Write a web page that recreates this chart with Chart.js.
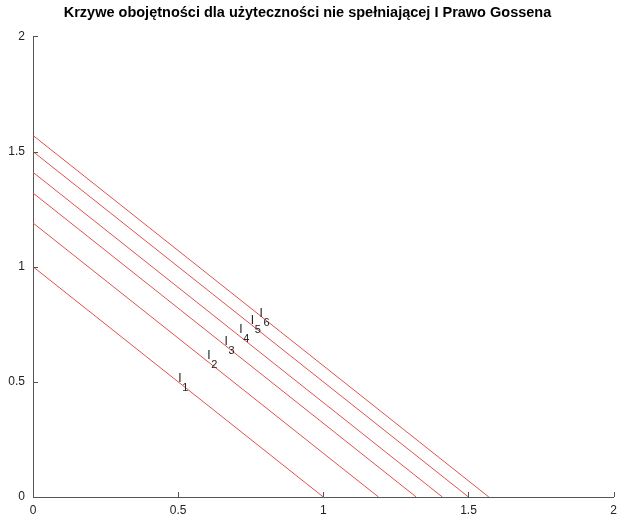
<!DOCTYPE html>
<html>
<head>
<meta charset="utf-8">
<script src="https://cdn.jsdelivr.net/npm/chart.js@4/dist/chart.umd.min.js"></script>
<style>
  html, body { margin: 0; padding: 0; background: #fff; }
  #wrap { width: 623px; height: 518px; }
</style>
</head>
<body>
<div id="wrap"><canvas id="chart"></canvas></div>
<script>
// poziomy krzywych obojętności: x + y = c
const levels = [1.0, 1.19, 1.32, 1.41, 1.50, 1.57];
const labelNames = ['1', '2', '3', '4', '5', '6'];
const labelX = [0.50, 0.60, 0.66, 0.71, 0.75, 0.78];
const labelY = [0.50, 0.60, 0.66, 0.71, 0.75, 0.78];
const tickValues = [0, 0.5, 1, 1.5, 2];

const lineColor = 'rgb(226, 80, 80)';
const axisColor = '#555';

const datasets = levels.map((c, i) => ({
    label: 'I' + labelNames[i],
    data: [{ x: 0, y: c }, { x: c, y: 0 }],
    borderColor: lineColor,
    borderWidth: 1,
    pointRadius: 0,
    fill: false,
    tension: 0
}));

// ticki skierowane do środka + etykiety I z indeksem dolnym
const extras = {
    id: 'extras',
    afterDraw(chart) {
        const ctx = chart.ctx;
        const xs = chart.scales.x, ys = chart.scales.y;
        const area = chart.chartArea;
        ctx.save();
        ctx.strokeStyle = axisColor;
        ctx.lineWidth = 1;
        ctx.beginPath();
        tickValues.forEach(v => {
            const px = Math.round(xs.getPixelForValue(v)) + 0.5;
            ctx.moveTo(px, area.bottom);
            ctx.lineTo(px, area.bottom - 5);
            const py = Math.round(ys.getPixelForValue(v)) + 0.5;
            ctx.moveTo(area.left, py);
            ctx.lineTo(area.left + 5, py);
        });
        ctx.stroke();

        ctx.fillStyle = '#222';
        ctx.textBaseline = 'alphabetic';
        ctx.textAlign = 'left';
        labelNames.forEach((n, i) => {
            const px = xs.getPixelForValue(labelX[i]);
            const py = ys.getPixelForValue(labelY[i]);
            ctx.font = '12px "Liberation Sans", Arial, sans-serif';
            ctx.fillText('I', px, py);
            ctx.font = '11px "Liberation Sans", Arial, sans-serif';
            ctx.fillText(n, px + 4, py + 9);
        });
        ctx.restore();
    }
};

new Chart(document.getElementById('chart'), {
    type: 'line',
    data: { datasets },
    options: {
        responsive: true,
        maintainAspectRatio: false,
        animation: false,
        layout: { padding: { left: 0, right: 8, top: 0, bottom: 0 } },
        plugins: {
            legend: { display: false },
            tooltip: { enabled: false },
            title: {
                display: true,
                text: 'Krzywe obojętności dla użyteczności nie spełniającej I Prawo Gossena',
                color: '#000',
                font: { family: '"Liberation Sans", Arial, sans-serif', size: 14.5, weight: 'bold' },
                padding: { top: 4, bottom: 15 }
            }
        },
        scales: {
            x: {
                type: 'linear',
                min: 0,
                max: 2,
                afterBuildTicks: s => { s.ticks = tickValues.map(v => ({ value: v })); },
                afterFit: s => { s.height = 21; },
                grid: { display: false, drawTicks: false },
                border: { display: true, color: axisColor, width: 1 },
                ticks: {
                    padding: 6,
                    color: '#222',
                    font: { family: '"Liberation Sans", Arial, sans-serif', size: 12 },
                    callback: v => String(v)
                }
            },
            y: {
                type: 'linear',
                min: 0,
                max: 2,
                afterBuildTicks: s => { s.ticks = tickValues.map(v => ({ value: v })); },
                afterFit: s => { s.width = 33; },
                grid: { display: false, drawTicks: false },
                border: { display: true, color: axisColor, width: 1 },
                ticks: {
                    padding: 8,
                    color: '#222',
                    font: { family: '"Liberation Sans", Arial, sans-serif', size: 12 },
                    callback: v => String(v)
                }
            }
        }
    },
    plugins: [extras]
});
</script>
</body>
</html>
